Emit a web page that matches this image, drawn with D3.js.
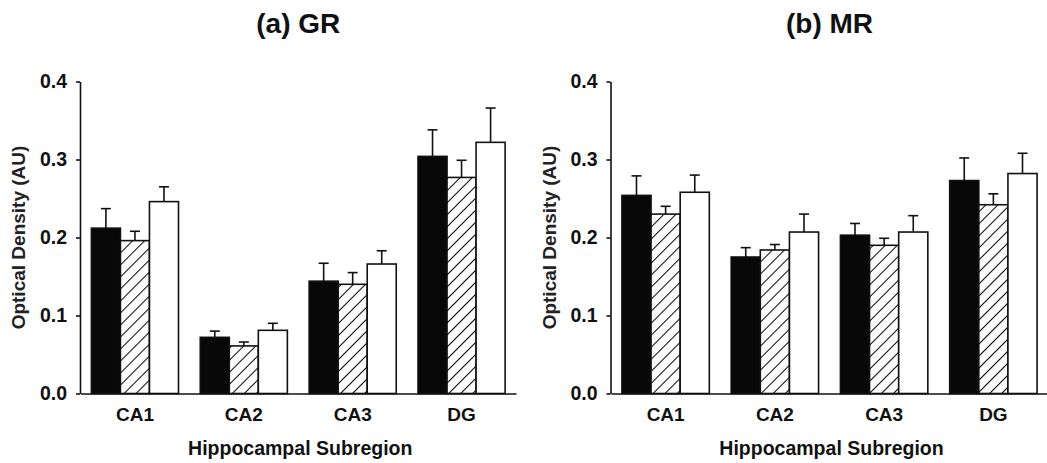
<!DOCTYPE html>
<html>
<head>
<meta charset="utf-8">
<script src="https://cdn.jsdelivr.net/npm/d3@7"></script>
<style>
  body { margin: 0; background: #fff; }
  svg { display: block; font-family: "Liberation Sans", Arial, sans-serif; }
</style>
</head>
<body>
<svg id="chart" width="1047" height="463"></svg>
<script>
// Data
var regions = ["CA1", "CA2", "CA3", "DG"];
var groups = ["black", "hatched", "white"];
var yTicks = [0.0, 0.1, 0.2, 0.3, 0.4];

// (a) GR: means and top of error bar, per group, per region
var grMean  = [[0.212, 0.072, 0.144, 0.304],
               [0.196, 0.061, 0.140, 0.277],
               [0.246, 0.081, 0.166, 0.322]];
var grUpper = [[0.237, 0.080, 0.167, 0.338],
               [0.208, 0.066, 0.155, 0.299],
               [0.265, 0.090, 0.183, 0.366]];

// (b) MR
var mrMean  = [[0.254, 0.175, 0.203, 0.273],
               [0.230, 0.184, 0.190, 0.242],
               [0.258, 0.207, 0.207, 0.282]];
var mrUpper = [[0.279, 0.187, 0.218, 0.302],
               [0.240, 0.191, 0.199, 0.256],
               [0.280, 0.230, 0.228, 0.308]];

var svg = d3.select("svg#chart");

// hatch pattern
var defs = svg.append("defs");
var pat = defs.append("pattern")
  .attr("id", "hatch")
  .attr("patternUnits", "userSpaceOnUse")
  .attr("width", 8.5)
  .attr("height", 8.5)
  .attr("patternTransform", "rotate(45)");
pat.append("rect")
  .attr("width", 8.5).attr("height", 8.5).attr("fill", "#fff");
pat.append("line")
  .attr("x1", 0).attr("y1", 0)
  .attr("x2", 0).attr("y2", 8.5)
  .attr("stroke", "#000")
  .attr("stroke-width", 2);

var fills = { black: "#080808", hatched: "url(#hatch)", white: "#fff" };

var y = d3.scaleLinear().domain([0, 0.4]).range([393.5, 81.5]);

function drawPanel(title, mean, upper, x0, x1) {
  var g = svg.append("g");

  var x = d3.scaleBand()
    .domain(regions)
    .range([x0, x1])
    .paddingInner(0.2)
    .paddingOuter(0.1);

  var xs = d3.scaleBand()
    .domain(groups)
    .range([0, x.bandwidth()]);

  var bars = [];
  groups.forEach(function(grp, gi) {
    regions.forEach(function(reg, ri) {
      bars.push({ region: reg, group: grp, v: mean[gi][ri], up: upper[gi][ri] });
    });
  });

  // error bars (upper only)
  var cap = 5;
  var err = g.selectAll("g.err")
    .data(bars)
    .enter().append("g")
    .attr("class", "err")
    .attr("stroke", "#111")
    .attr("stroke-width", 1.6);
  err.append("line")
    .attr("x1", d => x(d.region) + xs(d.group) + xs.bandwidth() / 2)
    .attr("x2", d => x(d.region) + xs(d.group) + xs.bandwidth() / 2)
    .attr("y1", d => y(d.v))
    .attr("y2", d => y(d.up));
  err.append("line")
    .attr("x1", d => x(d.region) + xs(d.group) + xs.bandwidth() / 2 - cap)
    .attr("x2", d => x(d.region) + xs(d.group) + xs.bandwidth() / 2 + cap)
    .attr("y1", d => y(d.up))
    .attr("y2", d => y(d.up));

  // bars
  g.selectAll("rect.bar")
    .data(bars)
    .enter().append("rect")
    .attr("class", "bar")
    .attr("x", d => x(d.region) + xs(d.group))
    .attr("y", d => y(d.v))
    .attr("width", xs.bandwidth())
    .attr("height", d => y(0) - y(d.v))
    .attr("fill", d => fills[d.group])
    .attr("stroke", "#111")
    .attr("stroke-width", 1.6);

  // y axis
  var yAxis = g.append("g")
    .attr("transform", "translate(" + (x0 - 0.5) + ",0)")
    .call(d3.axisLeft(y).tickValues(yTicks).tickFormat(d3.format(".1f")).tickSize(4).tickPadding(9).tickSizeOuter(0));
  yAxis.selectAll("text")
    .attr("font-size", 19.5)
    .attr("font-weight", "bold")
    .attr("fill", "#111");

  // x axis
  var xAxis = g.append("g")
    .attr("transform", "translate(0," + y(0) + ")")
    .call(d3.axisBottom(x).tickSize(0).tickPadding(14));
  xAxis.selectAll("text")
    .attr("font-size", 19)
    .attr("font-weight", "bold")
    .attr("fill", "#111");

  g.selectAll(".domain, .tick line")
    .attr("stroke", "#111")
    .attr("stroke-width", 1.6);

  // labels
  var cx = (x0 + x1) / 2;
  g.append("text")
    .attr("x", cx)
    .attr("y", 33)
    .attr("text-anchor", "middle")
    .attr("font-size", 28)
    .attr("font-weight", "bold")
    .attr("fill", "#111")
    .text(title);

  g.append("text")
    .attr("x", (x0 + x0 + 4 * x.step()) / 2 + 2)
    .attr("y", 455)
    .attr("text-anchor", "middle")
    .attr("font-size", 19.5)
    .attr("font-weight", "bold")
    .attr("fill", "#111")
    .text("Hippocampal Subregion");

  g.append("text")
    .attr("transform", "translate(" + (x0 - 62) + "," + y(0.2) + ") rotate(-90)")
    .attr("dy", "0.35em")
    .attr("text-anchor", "middle")
    .attr("font-size", 19)
    .attr("font-weight", "bold")
    .attr("fill", "#222")
    .text("Optical Density (AU)");
}

drawPanel("(a) GR", grMean, grUpper, 80.5, 516);
drawPanel("(b) MR", mrMean, mrUpper, 611, 1048);
</script>
</body>
</html>
